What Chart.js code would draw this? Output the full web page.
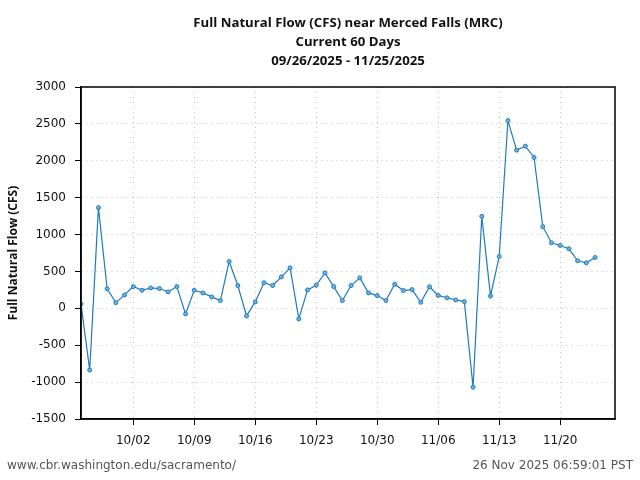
<!DOCTYPE html>
<html>
<head>
<meta charset="utf-8">
<script src="https://cdn.jsdelivr.net/npm/chart.js@4.4.1/dist/chart.umd.min.js"></script>
<style>
html,body{margin:0;padding:0;background:#fff;}
#wrap{width:640px;height:480px;position:relative;}
</style>
</head>
<body>
<div id="wrap"><canvas id="c" width="640" height="480"></canvas></div>
<script>
// Day offsets from 09/26/2025
const dayOffsets = [0,1,2,3,4,5,6,7,8,9,10,11,12,13,14,15,16,17,18,19,20,21,22,23,24,25,26,27,28,29,30,31,32,33,34,35,36,37,38,39,40,41,42,43,44,45,46,47,48,49,50,51,52,53,54,55,56,57,58,59];
const flowValues = [60,-837,1365,264,77,182,295,245,277,268,223,295,-76,245,209,155,105,635,309,-103,87,347,309,427,549,-144,250,313,481,295,105,309,413,209,173,105,327,241,254,82,293,175,143,114,91,-1069,1247,168,703,2545,2144,2198,2045,1107,889,852,807,644,617,689];
const tickDays = [6,13,20,27,34,41,48,55];
const tickLabels = ['10/02','10/09','10/16','10/23','10/30','11/06','11/13','11/20'];
const xMaxDays = 61.29; // 11/26/2025 06:59
const titleLines = ['Full Natural Flow (CFS) near Merced Falls (MRC)','Current 60 Days','09/26/2025 - 11/25/2025'];
const yTitle = 'Full Natural Flow (CFS)';
const footerLeft = 'www.cbr.washington.edu/sacramento/';
const footerRight = '26 Nov 2025 06:59:01 PST';

const points = dayOffsets.map((d,i)=>({x:d,y:flowValues[i]}));

const decor = {
  id:'decor',
  afterDraw(chart){
    const ctx = chart.ctx, a = chart.chartArea;
    ctx.save();
    ctx.strokeStyle = '#000';
    ctx.lineWidth = 1.5;
    ctx.strokeRect(a.left, a.top, a.right - a.left, a.bottom - a.top);
    ctx.fillStyle = '#111';
    ctx.font = 'bold 13.2px "Open Sans"';
    ctx.textAlign = 'center';
    ctx.textBaseline = 'middle';
    const cx = (a.left + a.right) / 2;
    const ys = [23, 42, 61];
    titleLines.forEach((t,i)=>ctx.fillText(t, cx, ys[i]));
    ctx.font = '12px "DejaVu Sans"';
    ctx.fillStyle = '#555';
    ctx.textAlign = 'left';
    ctx.fillText(footerLeft, 7, 466);
    ctx.textAlign = 'right';
    ctx.fillText(footerRight, 633, 466);
    ctx.restore();
  }
};

new Chart(document.getElementById('c'), {
  type:'line',
  data:{datasets:[{
    data:points,
    borderColor:'#1f7bbf',
    borderWidth:1.2,
    pointRadius:2,
    pointBackgroundColor:'#6fb3e0',
    pointBorderColor:'#1f7bbf',
    pointBorderWidth:1,
    tension:0,
    fill:false
  }]},
  options:{
    responsive:false,
    animation:false,
    devicePixelRatio:1,
    layout:{padding:{top:87,right:25,bottom:0,left:0}},
    plugins:{legend:{display:false},tooltip:{enabled:false},title:{display:false}},
    scales:{
      x:{
        type:'linear',
        min:0, max:xMaxDays,
        afterBuildTicks(s){ s.ticks = tickDays.map(v=>({value:v})); },
        afterFit(s){ s.height = 61; },
        ticks:{
          autoSkip:false, maxRotation:0, padding:9,
          color:'#111', font:{family:'DejaVu Sans', size:12},
          callback(v){ const i = tickDays.indexOf(v); return i>=0 ? tickLabels[i] : ''; }
        },
        grid:{color:'#c0c0c0', tickColor:'#000', tickLength:6, drawTicks:true},
        border:{display:true, color:'#000', width:1.5, dash:[1,4]}
      },
      y:{
        min:-1500, max:3000,
        afterFit(s){ s.width = 81; },
        ticks:{stepSize:500, padding:9, color:'#111', font:{family:'DejaVu Sans', size:12},
          callback(v){ return String(v); }},
        grid:{color:'#c0c0c0', tickColor:'#000', tickLength:6},
        border:{display:true, color:'#000', width:1.5, dash:[1,4]},
        title:{display:true, text:yTitle, color:'#111', font:{family:'Open Sans', size:12, weight:'bold'}, padding:{top:6,bottom:0}}
      }
    }
  },
  plugins:[decor]
});
</script>
</body>
</html>
